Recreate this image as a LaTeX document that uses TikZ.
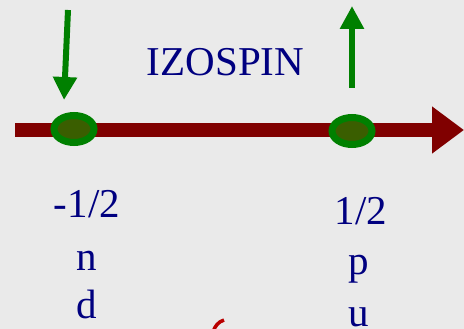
\documentclass[tikz,border=0pt]{standalone}
\usepackage{fontspec}
\setmainfont{Liberation Serif}
\usetikzlibrary{arrows.meta,shapes.geometric}
\definecolor{bg}{RGB}{234,234,234}
\definecolor{navy}{RGB}{0,0,128}
\definecolor{axisred}{RGB}{128,0,0}
\definecolor{arrgreen}{RGB}{0,128,0}
\definecolor{olive}{RGB}{58,94,0}
\definecolor{curvered}{RGB}{185,0,0}
\tikzset{
  lbl/.style={inner sep=0pt, anchor=base, text=navy, font=\fontsize{41}{48}\selectfont},
  spinarrow/.style={draw=arrgreen, line width=6pt, -{Triangle[width=23pt,length=23pt]}},
  dot/.style={ellipse, draw=arrgreen, line width=7pt, fill=olive, minimum width=40pt, minimum height=27pt, inner sep=0pt},
  axis/.style={draw=axisred, line width=14pt, -{Triangle[width=45pt,length=32pt]}}
}
\begin{document}
\begin{tikzpicture}[x=1pt,y=1pt]
\useasboundingbox (0,0) rectangle (464,-329);
\fill[bg] (0,0) rectangle (464,-329);
\begin{scope}
\clip (0,0) rectangle (464,-329);
% axis
\coordinate (ax0) at (15,-130);
\coordinate (ax1) at (464,-130);
\draw[axis] (ax0) -- (ax1);
% dots
\node[dot] (dl) at (74,-129) {};
\node[dot] (dr) at (352,-131) {};
% spin arrows
\coordinate (dlt) at (68,-10);
\coordinate (dlb) at (64,-100);
\draw[spinarrow] (dlt) -- (dlb);
\coordinate (urb) at (352,-88);
\coordinate (urt) at (352,-6);
\draw[spinarrow] (urb) -- (urt);
% title
\node[lbl] (title) at (225.5,-76) {IZOSPIN};
% left column
\node[lbl] (lv) at (87,-218) {-1/2};
\node[lbl] (ln) at (87,-270) {n};
\node[lbl] (ld) at (87,-318) {d};
% right column
\node[lbl] (rv) at (361,-225) {1/2};
\node[lbl] (rp) at (359,-274) {p};
\node[lbl] (ru) at (359,-326) {u};
% red curve fragment
\draw[curvered, line width=3.5pt] (224,-320) .. controls (218,-322) and (215,-326) .. (213,-332);
\end{scope}
\end{tikzpicture}
\end{document}
